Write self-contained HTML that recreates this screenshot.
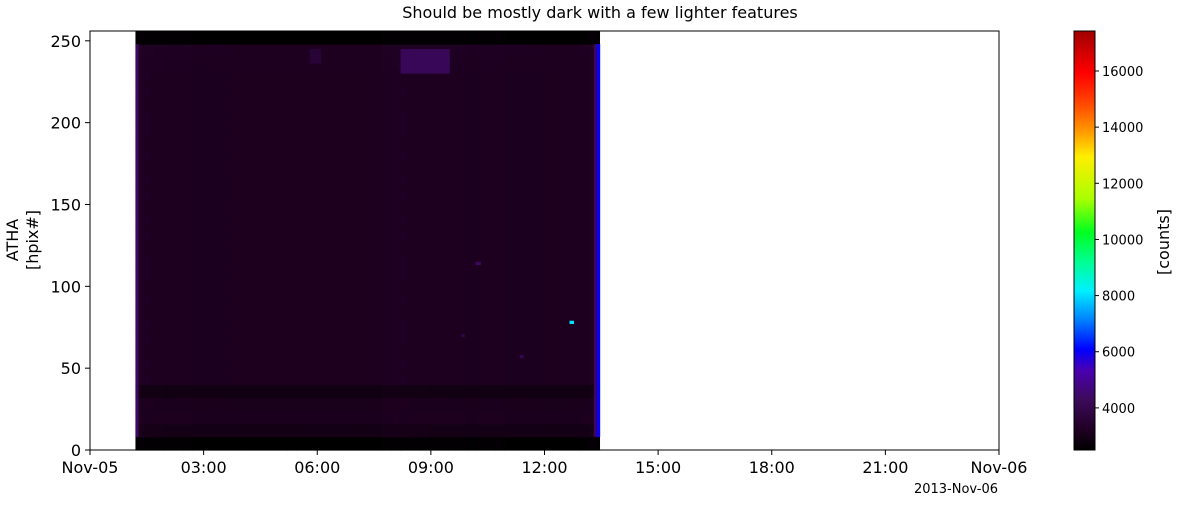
<!DOCTYPE html>
<html><head><meta charset="utf-8"><style>
body{margin:0;background:#fff;width:1200px;height:500px;overflow:hidden;font-family:"Liberation Sans","DejaVu Sans",sans-serif}
svg text{font-family:"DejaVu Sans","Liberation Sans",sans-serif}
</style></head><body>
<svg id="chart" width="1200" height="500" xmlns="http://www.w3.org/2000/svg">
<defs>
<linearGradient id="cmap" x1="0" y1="1" x2="0" y2="0">
<stop offset="0" stop-color="#000000"/>
<stop offset="0.05" stop-color="#200024"/>
<stop offset="0.12" stop-color="#3c0a5a"/>
<stop offset="0.19" stop-color="#4a00b0"/>
<stop offset="0.24" stop-color="#0000ff"/>
<stop offset="0.31" stop-color="#0080ff"/>
<stop offset="0.38" stop-color="#00f0ff"/>
<stop offset="0.45" stop-color="#00ff90"/>
<stop offset="0.52" stop-color="#00ff20"/>
<stop offset="0.6" stop-color="#aaff00"/>
<stop offset="0.7" stop-color="#ffee00"/>
<stop offset="0.76" stop-color="#ff9900"/>
<stop offset="0.83" stop-color="#ff4400"/>
<stop offset="0.9" stop-color="#ff0000"/>
<stop offset="1" stop-color="#a00000"/>
</linearGradient>
</defs>
<g id="cells"></g>
<g id="axes"></g>
</svg>
<script>
const rowValues=[2520,2800,2920,2900,2750,2950,2950,2950,2950,2950,2950,2950,2950,2950,2950,2950,2950,2950,2950,2950,2950,2950,2950,2950,2950,2950,2950,2950,2950,2970,2980,2520];
const colOffsets=[60,40,30,20,20,20,10,10,10,10,0,0,0,0,0,0,0,0,0,0,0,0,0,0,0,0,40,50,40,30,30,20,20,20,20,10,20,20,20,10,10,10,10,0,0,0,10,20,60];
const edgeT0=[1.2,13.3,13.38];
const edgeT1=[1.28,13.38,13.47];
const edgeValues=[4000,3900,6000];
const hotT0=[12.66,10.18,9.8,11.35,8.2,5.8];
const hotT1=[12.78,10.32,9.9,11.45,9.5,6.1];
const hotB0=[77,113,69,56,230,236];
const hotB1=[79,115,71,58,245,245];
const hotValues=[8000,3900,3500,3700,3800,3300];
const xTicks=["Nov-05","03:00","06:00","09:00","12:00","15:00","18:00","21:00","Nov-06"];
const yTicks=[0,50,100,150,200,250];
const cbTicks=[4000,6000,8000,10000,12000,14000,16000];
const t0=1.2, dt=0.25, binH=8, vmin=2500, vmax=17424;
const L=90,R=999,T=31,B=450;
const xs=h=>L+h/24*(R-L), ys=v=>B-v/256*(B-T);
const stops=[[0,[0,0,0]],[0.03,[28,0,30]],[0.1,[62,8,100]],[0.19,[74,0,176]],[0.24,[0,0,255]],[0.31,[0,128,255]],[0.38,[0,240,255]],[0.45,[0,255,144]],[0.52,[0,255,32]],[0.6,[170,255,0]],[0.7,[255,238,0]],[0.76,[255,153,0]],[0.83,[255,68,0]],[0.9,[255,0,0]],[1,[160,0,0]]];
function cmap(v){let f=Math.max(0,Math.min(1,(v-vmin)/(vmax-vmin)));for(let i=1;i<stops.length;i++){if(f<=stops[i][0]){const a=stops[i-1],b=stops[i],u=(f-a[0])/(b[0]-a[0]);return 'rgb('+a[1].map((c,k)=>Math.round(c+(b[1][k]-c)*u)).join(',')+')';}}return 'rgb(160,0,0)';}
const NS='http://www.w3.org/2000/svg';
const cells=document.getElementById('cells');
function mk(tag,attrs,parent){const e=document.createElementNS(NS,tag);for(const k in attrs)e.setAttribute(k,attrs[k]);parent.appendChild(e);return e;}
for(let c=0;c<colOffsets.length;c++){for(let r=0;r<rowValues.length;r++){
 const x0=xs(t0+c*dt),x1=Math.min(xs(t0+(c+1)*dt),xs(13.47)),y0=ys((r+1)*binH),y1=ys(r*binH);
 const v=rowValues[r]+(rowValues[r]>2700?colOffsets[c]:colOffsets[c]*0.2);
 const e=mk('rect',{x:x0,y:y0,width:Math.max(0,x1-x0+0.6),height:y1-y0+0.6,fill:cmap(v)},cells);
 
 
}}
for(let i=0;i<edgeValues.length;i++){
 const e=mk('rect',{x:xs(edgeT0[i]),y:ys(248),width:xs(edgeT1[i])-xs(edgeT0[i]),height:ys(8)-ys(248),fill:cmap(edgeValues[i])},cells);
 
 
}
for(let i=0;i<hotValues.length;i++){
 const e=mk('rect',{x:xs(hotT0[i]),y:ys(hotB1[i]),width:xs(hotT1[i])-xs(hotT0[i]),height:ys(hotB0[i])-ys(hotB1[i]),fill:cmap(hotValues[i])},cells);
 
 
}
const ax=document.getElementById('axes');
const frame=mk('rect',{x:L,y:T,width:R-L,height:B-T,fill:'none',stroke:'#000','stroke-width':1},ax);


xTicks.forEach((t,i)=>{const x=xs(i*3);mk('line',{x1:x,x2:x,y1:B,y2:B+5,stroke:'#000'},ax);
 const tx=mk('text',{x:x,y:B+23,'text-anchor':'middle','font-size':16,fill:'#000'},ax);tx.textContent=t;
 
 });
yTicks.forEach(v=>{const y=ys(v);mk('line',{x1:L-5,x2:L,y1:y,y2:y,stroke:'#000'},ax);
 const tx=mk('text',{x:L-9,y:y+6,'text-anchor':'end','font-size':16,fill:'#000'},ax);tx.textContent=v;
 
 });
const cb=mk('rect',{x:1074,y:T,width:21,height:B-T,fill:'url(#cmap)',stroke:'#000','stroke-width':1},ax);


cbTicks.forEach(v=>{const y=B-(v-vmin)/(vmax-vmin)*(B-T);mk('line',{x1:1095,x2:1099,y1:y,y2:y,stroke:'#000'},ax);
 const tx=mk('text',{x:1102,y:y+5,'font-size':13,fill:'#000'},ax);tx.textContent=v;
 
 });
</script>
<svg width="1200" height="500" style="position:absolute;left:0;top:0;pointer-events:none">
<text x="600" y="18" text-anchor="middle" font-size="16">Should be mostly dark with a few lighter features</text>
<text transform="translate(18,240) rotate(-90)" text-anchor="middle" font-size="16"><tspan x="0" dy="0">ATHA</tspan><tspan x="0" dy="20">[hpix#]</tspan></text>
<text transform="translate(1169,242) rotate(-90)" text-anchor="middle" font-size="16">[counts]</text>
<text x="998" y="493" text-anchor="end" font-size="13">2013-Nov-06</text>
</svg>
</body></html>
